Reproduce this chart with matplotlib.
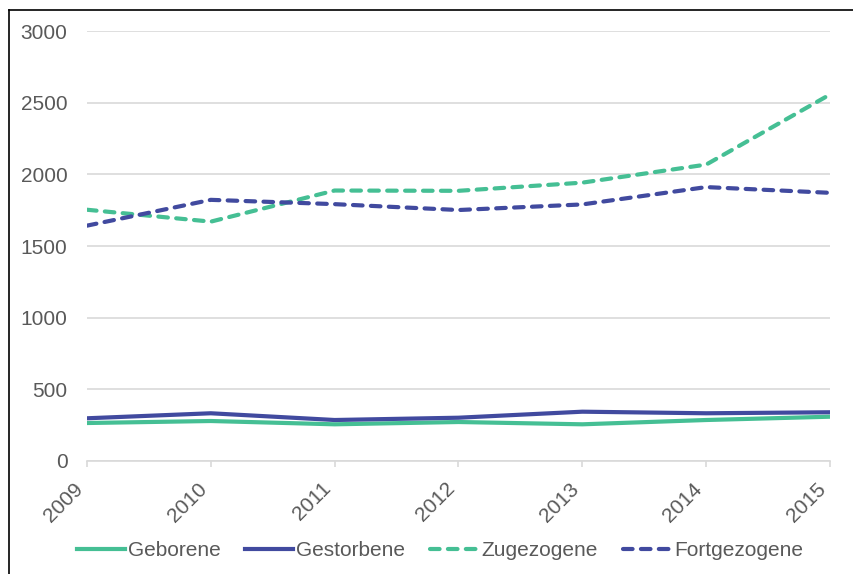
import matplotlib
matplotlib.use("Agg")
import matplotlib.pyplot as plt
from matplotlib.lines import Line2D

years = ["2009", "2010", "2011", "2012", "2013", "2014", "2015"]
geborene = [265, 279, 256, 272, 256, 286, 309]
gestorbene = [298, 333, 286, 302, 344, 333, 340]
zugezogene = [1753, 1670, 1887, 1885, 1942, 2068, 2557]
fortgezogene = [1642, 1822, 1792, 1751, 1790, 1911, 1871]

green = "#45bf94"
blue = "#414a9f"
text_gray = "#595959"
grid_gray = "#d9d9d9"

plt.rcParams["font.family"] = ["Liberation Sans", "DejaVu Sans"]

fig = plt.figure(figsize=(8.54, 5.74), dpi=100)
ax = fig.add_axes([87 / 854, 113 / 574, 743 / 854, 430 / 574])

x = list(range(len(years)))
lw = 3.0
ax.plot(x, geborene, color=green, lw=lw, solid_joinstyle="round", label="Geborene")
ax.plot(x, gestorbene, color=blue, lw=lw, solid_joinstyle="round", label="Gestorbene")
ax.plot(x, zugezogene, color=green, lw=lw, dashes=(2.3, 2.0), dash_capstyle="round",
        dash_joinstyle="round", label="Zugezogene")
ax.plot(x, fortgezogene, color=blue, lw=lw, dashes=(2.3, 2.0), dash_capstyle="round",
        dash_joinstyle="round", label="Fortgezogene")

ax.set_xlim(0, len(years) - 1)
ax.set_ylim(0, 3000)
ax.set_yticks(range(0, 3001, 500))
ax.set_xticks(x)
ax.set_xticklabels(years, rotation=45, ha="right", va="top")

ax.grid(axis="y", color=grid_gray, lw=1.2)
ax.set_axisbelow(True)
for s in ["top", "right", "left"]:
    ax.spines[s].set_visible(False)
ax.spines["bottom"].set_color(grid_gray)
ax.spines["bottom"].set_linewidth(1.2)

ax.tick_params(axis="y", length=0, pad=14, labelsize=15, labelcolor=text_gray)
ax.tick_params(axis="x", length=4, width=1.2, color=grid_gray, pad=9,
               labelsize=15, labelcolor=text_gray)

fig.legend(loc="center", bbox_to_anchor=(0.515, 1 - 551 / 574), ncol=4,
           frameon=False, fontsize=15, labelcolor=text_gray,
           handlelength=2.3, handletextpad=0.15, columnspacing=1.2)

# outer frame (top and left edges visible)
fig.add_artist(Line2D([9 / 854, 9 / 854], [0, 1 - 10 / 574], color="black", lw=1.2,
                      transform=fig.transFigure))
fig.add_artist(Line2D([9 / 854, 1], [1 - 10 / 574, 1 - 10 / 574], color="black", lw=1.2,
                      transform=fig.transFigure))

fig.savefig("out.png", dpi=100)
